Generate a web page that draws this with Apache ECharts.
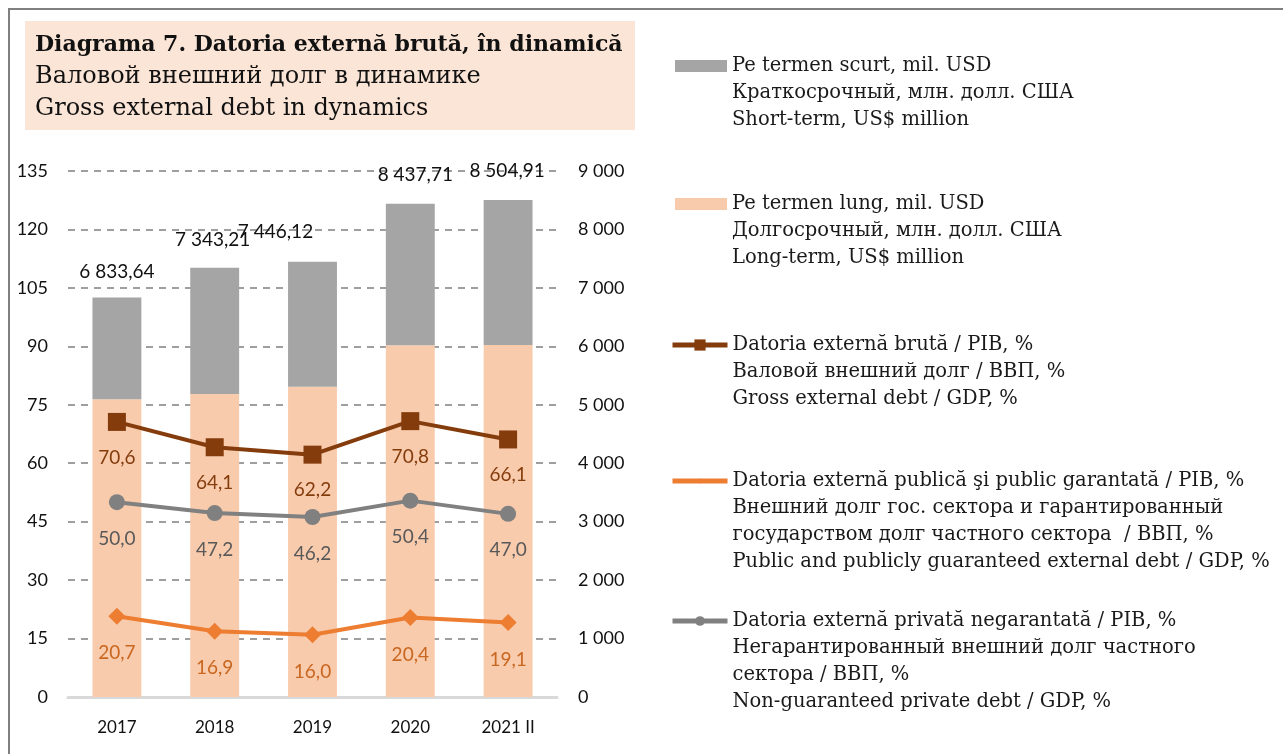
<!DOCTYPE html>
<html>
<head>
<meta charset="utf-8">
<script src="https://cdn.jsdelivr.net/npm/echarts@6/dist/echarts.min.js"></script>
<style>
  html, body { margin: 0; padding: 0; background: #fff; }
  #chart { width: 1283px; height: 754px; }
</style>
</head>
<body>
<div id="chart"></div>
<script>
// data
var years = ['2017', '2018', '2019', '2020', '2021 II'];
var longTerm = [5094, 5184, 5309, 6018, 6023];
var shortTerm = [1740, 2159, 2137, 2420, 2482];
var totalDebt = [6833.64, 7343.21, 7446.12, 8437.71, 8504.91];
var grossGdp = [70.6, 64.1, 62.2, 70.8, 66.1];
var publicGdp = [20.7, 16.9, 16.0, 20.4, 19.1];
var privateGdp = [50.0, 47.2, 46.2, 50.4, 47.0];
var leftTicks = [0, 135, 15];
var rightTicks = [0, 9000, 1000];

var legendText = {
  short: ['Pe termen scurt, mil. USD', 'Краткосрочный, млн. долл. США', 'Short-term, US$ million'],
  long: ['Pe termen lung, mil. USD', 'Долгосрочный, млн. долл. США', 'Long-term, US$ million'],
  gross: ['Datoria externă brută / PIB, %', 'Валовой внешний долг / ВВП, %', 'Gross external debt / GDP, %'],
  pub: ['Datoria externă publică şi public garantată / PIB, %', 'Внешний долг гос. сектора и гарантированный', 'государством долг частного сектора  / ВВП, %', 'Public and publicly guaranteed external debt / GDP, %'],
  priv: ['Datoria externă privată negarantată / PIB, %', 'Негарантированный внешний долг частного', 'сектора / ВВП, %', 'Non-guaranteed private debt / GDP, %']
};

function fmtNum(v, dec) {
  var s = v.toFixed(dec).split('.');
  var intPart = s[0].replace(/\B(?=(\d{3})+(?!\d))/g, ' ');
  return s.length > 1 ? intPart + ',' + s[1] : intPart;
}

var serifFont = '"DejaVu Serif", "Liberation Serif", serif';
var sansFont = 'Lato, "Open Sans", sans-serif';
var LH = 27;

function makeLegend(key, iconY, opts) {
  var lines = legendText[key];
  var n = lines.length;
  var pad = [];
  for (var i = 0; i < n - 1; i++) pad.push('');
  var blockH = (2 * n - 1) * LH;
  return Object.assign({
    data: [lines[0]],
    left: 670,
    top: iconY - blockH / 2,
    padding: 0,
    itemWidth: 55,
    itemHeight: 12,
    selectedMode: false,
    formatter: function () { return pad.concat(lines).join('\n'); },
    textStyle: { fontFamily: serifFont, fontSize: 19.5, color: '#1a1a1a', lineHeight: LH }
  }, opts || {});
}

// manual offsets of the total labels, as in the original
var totalOffsets = [[0, -4], [-2, -6], [-37, -8], [5, -7], [-1, -8]];

var myChart = echarts.init(document.getElementById('chart'));

var option = {
  animation: false,
  backgroundColor: '#fff',
  graphic: [
    { type: 'rect', shape: { x: 9, y: 9, width: 1400, height: 900 }, style: { fill: 'none', stroke: '#7f7f7f', lineWidth: 2 }, z: -10 },
    { type: 'rect', shape: { x: 25, y: 21, width: 610, height: 109 }, style: { fill: '#FBE5D6' }, z: -5 }
  ],
  title: {
    left: 35,
    top: 29,
    padding: 0,
    text: '{b|Diagrama 7. Datoria externă brută, în dinamică}\n{n|Валовой внешний долг в динамике}\n{n|Gross external debt in dynamics}',
    textStyle: {
      fontWeight: 'normal',
      rich: {
        b: { fontFamily: serifFont, fontSize: 22, fontWeight: 'bold', color: '#111', lineHeight: 32 },
        n: { fontFamily: serifFont, fontSize: 24, fontWeight: 'normal', color: '#111', lineHeight: 32 }
      }
    }
  },
  legend: [
    makeLegend('short', 66, { left: 675, itemWidth: 52, itemHeight: 12, icon: 'rect' }),
    makeLegend('long', 204, { left: 675, itemWidth: 52, itemHeight: 12, icon: 'rect' }),
    makeLegend('gross', 345, { itemHeight: 14, lineStyle: { width: 5 } }),
    makeLegend('pub', 481, { itemHeight: 6, lineStyle: { width: 5 } }),
    makeLegend('priv', 621, { itemHeight: 12, lineStyle: { width: 5 } })
  ],
  grid: { left: 68, right: 726, top: 171, bottom: 57 },
  xAxis: {
    type: 'category',
    data: years,
    axisLine: { lineStyle: { color: '#D9D9D9', width: 3 } },
    axisTick: { show: false },
    axisLabel: { color: '#111', fontFamily: sansFont, fontSize: 17, margin: 22 }
  },
  yAxis: [
    {
      type: 'value', min: leftTicks[0], max: leftTicks[1], interval: leftTicks[2],
      axisLine: { show: false }, axisTick: { show: false },
      axisLabel: { color: '#111', fontFamily: sansFont, fontSize: 18, margin: 20 },
      splitLine: { lineStyle: { color: '#808080', width: 1.5, type: [7, 6] } }
    },
    {
      type: 'value', min: rightTicks[0], max: rightTicks[1], interval: rightTicks[2],
      axisLine: { show: false }, axisTick: { show: false },
      axisLabel: { color: '#111', fontFamily: sansFont, fontSize: 18, margin: 21,
        formatter: function (v) { return fmtNum(v, 0); } },
      splitLine: { show: false }
    }
  ],
  series: [
    {
      name: legendText.long[0], type: 'bar', stack: 'debt', yAxisIndex: 1,
      barWidth: '50%', data: longTerm,
      itemStyle: { color: '#F8CBAD' }
    },
    {
      name: legendText.short[0], type: 'bar', stack: 'debt', yAxisIndex: 1,
      data: shortTerm.map(function (v, i) {
        return { value: v, label: { offset: totalOffsets[i] } };
      }),
      itemStyle: { color: '#A5A5A5' },
      label: {
        show: true, position: 'top', distance: 12,
        fontFamily: sansFont, fontSize: 19, color: '#111',
        formatter: function (p) { return fmtNum(totalDebt[p.dataIndex], 2); }
      }
    },
    {
      name: legendText.gross[0], type: 'line', yAxisIndex: 0, data: grossGdp,
      symbol: 'rect', symbolSize: 18,
      lineStyle: { color: '#843C0C', width: 4 },
      itemStyle: { color: '#843C0C' },
      label: { show: true, position: 'bottom', distance: 17, fontFamily: sansFont, fontSize: 19, color: '#843C0C',
        formatter: function (p) { return fmtNum(p.value, 1); } }
    },
    {
      name: legendText.pub[0], type: 'line', yAxisIndex: 0, data: publicGdp,
      symbol: 'diamond', symbolSize: 17,
      lineStyle: { color: '#ED7D31', width: 4 },
      itemStyle: { color: '#ED7D31' },
      label: { show: true, position: 'bottom', distance: 19, fontFamily: sansFont, fontSize: 19, color: '#C9661F',
        formatter: function (p) { return fmtNum(p.value, 1); } }
    },
    {
      name: legendText.priv[0], type: 'line', yAxisIndex: 0, data: privateGdp,
      symbol: 'circle', symbolSize: 16,
      lineStyle: { color: '#808080', width: 4 },
      itemStyle: { color: '#808080' },
      label: { show: true, position: 'bottom', distance: 19, fontFamily: sansFont, fontSize: 19, color: '#595959',
        formatter: function (p) { return fmtNum(p.value, 1); } }
    }
  ]
};

myChart.setOption(option);
</script>
</body>
</html>
